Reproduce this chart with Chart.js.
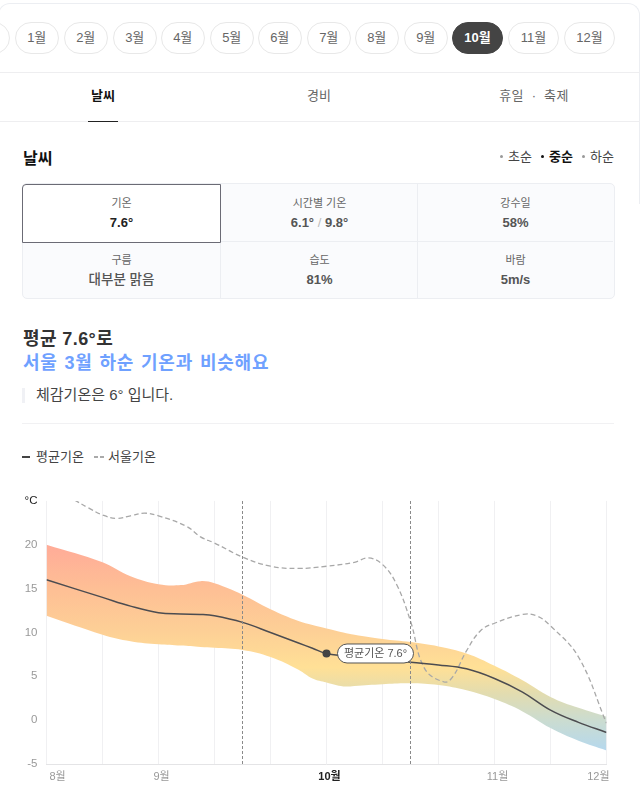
<!DOCTYPE html>
<html lang="ko">
<head>
<meta charset="utf-8">
<title>날씨</title>
<script src="https://cdn.jsdelivr.net/npm/chart.js@4"></script>
<style>
html, body { margin: 0; padding: 0; background: #fff; }
body { position: relative; width: 640px; height: 803px; overflow: hidden; font-family: "Liberation Sans", "Noto Sans CJK KR", sans-serif; color: #444; }
.abs { position: absolute; white-space: nowrap; }
.card { left: -2px; right: 0; top: 3px; height: 200px; border: 1px solid #eceef2; border-bottom: 0; border-radius: 12px 12px 0 0; }
.pill { position: absolute; top: 22px; height: 30px; line-height: 30px; border: 1px solid #e8e8e8; border-radius: 16px; text-align: center; font-size: 13px; color: #666; background: #fff; box-sizing: content-box; }
.pill.on { background: #444; border-color: #444; color: #fff; font-weight: bold; }
.rule { position: absolute; height: 1px; background: #eeeef0; }
.tab { position: absolute; top: 86px; width: 120px; text-align: center; font-size: 13px; line-height: 20px; color: #666; }
.tab.on { color: #111; font-weight: bold; }
.period { top: 148px; font-size: 13px; line-height: 18px; color: #444; }
.period.on { color: #111; font-weight: bold; }
.dot { position: absolute; top: 155px; width: 3px; height: 3px; border-radius: 50%; background: #999; }
.dot.on { background: #111; }
.table { left: 22px; top: 183px; width: 591px; height: 114px; border: 1px solid #eceef2; border-radius: 5px; background: #fafbfd; }
.cell { position: absolute; width: 197px; text-align: center; }
.cell .k { position: absolute; left: 0; right: 0; top: 11px; font-size: 11px; line-height: 16px; color: #666; }
.cell .v { position: absolute; left: 0; right: 0; top: 30px; font-size: 13px; line-height: 18px; font-weight: bold; color: #555; }
.sel { position: absolute; left: 22px; top: 184px; width: 197px; height: 57px; border: 1px solid #6b6b75; background: #fff; border-radius: 4px 0 0 0; }
canvas { position: absolute; left: 0; top: 485px; }
</style>
</head>
<body>
<div class="abs card"></div>
<div id="months"></div>
<div class="rule" style="left:0;right:0;top:72px"></div>
<div class="tab on" style="left:43px">날씨</div>
<div class="tab" style="left:259px">경비</div>
<div class="tab" style="left:474px;letter-spacing:.3px">휴일 &nbsp;·&nbsp; 축제</div>
<div class="rule" style="left:0;right:0;top:121px"></div>
<div class="abs" style="left:88px;top:121px;width:30px;height:1px;background:#222"></div>

<div class="abs" style="left:23px;top:149px;font-size:16px;line-height:20px;font-weight:bold;color:#111">날씨</div>
<div class="dot" style="left:500px"></div><div class="abs period" style="left:508px">초순</div>
<div class="dot on" style="left:541px"></div><div class="abs period on" style="left:549px">중순</div>
<div class="dot" style="left:582px"></div><div class="abs period" style="left:590px">하순</div>

<div class="abs table"></div>
<div class="rule" style="left:23px;width:590px;top:241px;background:#eceef2"></div>
<div class="rule" style="left:220px;width:1px;height:114px;top:184px;background:#eceef2"></div>
<div class="rule" style="left:417px;width:1px;height:114px;top:184px;background:#eceef2"></div>
<div class="sel"></div>
<div class="cell" style="left:23px;top:184px"><div class="k">기온</div><div class="v" style="color:#222">7.6°</div></div>
<div class="cell" style="left:221px;top:184px"><div class="k">시간별 기온</div><div class="v">6.1° <span style="color:#bbb;font-weight:normal">/</span> 9.8°</div></div>
<div class="cell" style="left:417px;top:184px"><div class="k">강수일</div><div class="v">58%</div></div>
<div class="cell" style="left:23px;top:241px"><div class="k">구름</div><div class="v" style="font-weight:500;font-size:13.5px">대부분 맑음</div></div>
<div class="cell" style="left:221px;top:241px"><div class="k">습도</div><div class="v">81%</div></div>
<div class="cell" style="left:417px;top:241px"><div class="k">바람</div><div class="v">5m/s</div></div>

<div class="abs" style="left:23px;top:327px;font-size:18px;line-height:24px;font-weight:bold;color:#333;letter-spacing:.4px">평균 7.6°로</div>
<div class="abs" style="left:23px;top:351px;font-size:18px;line-height:24px;font-weight:bold;color:#6fa1ff;letter-spacing:.8px;word-spacing:1px">서울 3월 하순 기온과 비슷해요</div>
<div class="abs" style="left:22px;top:388px;width:3px;height:15px;background:#f0f1f5"></div>
<div class="abs" style="left:36px;top:385px;font-size:15px;line-height:20px;color:#444">체감기온은 6° 입니다.</div>
<div class="rule" style="left:22px;width:592px;top:423px;background:#f1f1f3"></div>

<div class="abs" style="left:22px;top:456px;width:8px;height:2px;background:#444"></div>
<div class="abs" style="left:36px;top:448px;font-size:13px;line-height:18px;color:#444">평균기온</div>
<div class="abs" style="left:94px;top:456px;width:4px;height:2px;background:#aaa"></div>
<div class="abs" style="left:100px;top:456px;width:4px;height:2px;background:#aaa"></div>
<div class="abs" style="left:108px;top:448px;font-size:13px;line-height:18px;color:#444">서울기온</div>

<canvas id="chart" width="640" height="318"></canvas>

<script>
// month pills, the first one is cut off by the window
const pillMonths = ['', '1월', '2월', '3월', '4월', '5월', '6월', '7월', '8월', '9월', '10월', '11월', '12월'];
const pillLefts = [-34, 15, 64, 113, 161, 210, 258, 307, 355, 404, 452, 508, 564];

// chart data, x = 0 (8월) ... 10 (12월)
const monthTicks = ['8월', '', '9월', '', '', '10월', '', '', '11월', '', '12월'];
const yTicks = { '-5': '-5', 0: '0', 5: '5', 10: '10', 15: '15', 20: '20', 25: '°C' };

const bandX = [0, 1, 1.5, 2, 2.4, 2.75, 3, 3.5, 4, 4.5, 4.75, 5, 5.3, 5.5, 6, 6.5, 7, 7.5, 8, 8.5, 9, 9.5, 10];
const upperTemp = [20, 18, 16.4, 15.5, 15.4, 15.85, 15.6, 14.3, 12.65, 11.3, 10.85, 10.45, 10, 9.75, 9.25, 8.9, 8.4, 7.6, 6.2, 4.55, 2.65, 1.4, 0.4];
const lowerTemp = [11.9, 9.75, 9, 8.65, 8.5, 8.35, 8.25, 8, 7.2, 5.75, 4.75, 4.3, 3.85, 3.9, 4.1, 4.2, 4, 3.4, 2.4, 1, -0.9, -2.35, -3.45];
const meanTemp = [16, 14, 13, 12.25, 12.1, 12.05, 11.9, 11.15, 10, 8.8, 8.2, 7.6, 7.35, 7.25, 7, 6.6, 6.3, 5.85, 4.75, 3.2, 1.15, -0.25, -1.4];

const seoulX = [0.5, 0.75, 1, 1.25, 1.5, 1.75, 2, 2.5, 2.75, 3, 3.5, 4, 4.5, 5, 5.5, 5.75, 6, 6.25, 6.5, 6.75, 7.1, 7.25, 7.5, 7.75, 8, 8.5, 8.75, 9, 9.5, 10];
const seoulTemp = [25.1, 24.2, 23.4, 23, 23.3, 23.6, 23.3, 22.1, 20.9, 20.2, 18.6, 17.55, 17.3, 17.55, 18, 18.5, 17.75, 15.5, 11.3, 5.9, 4.35, 4.9, 7.9, 10.2, 11.05, 12.05, 11.9, 10.75, 7.2, -0.35];

const periodEdges = [3.5, 6.5];
const currentX = 5;
const currentTemp = 7.6;
const currentLabel = '평균기온 7.6°';

// band colours by temperature
const gradientTemps = [20, 15, 10, 6, 3, 0, -3.5];
const gradientColors = ['#ffab98', '#febf95', '#fdd096', '#ffe096', '#e2dcb0', '#cbdcd0', '#b5d8ee'];

pillMonths.forEach((m, i) => {
    const el = document.createElement('div');
    const wide = m.length > 2;
    el.className = 'pill' + (i === 10 ? ' on' : '');
    el.style.left = pillLefts[i] + 'px';
    el.style.width = (wide ? 49 : 41.5) + 'px';
    el.textContent = m;
    document.getElementById('months').appendChild(el);
});

function zip(xs, ys) {
    return xs.map((x, i) => ({ x: x, y: ys[i] }));
}

function bandFill(context) {
    const chart = context.chart;
    if (!chart.chartArea) return 'transparent';
    const yScale = chart.scales.y;
    const top = yScale.getPixelForValue(gradientTemps[0]);
    const bottom = yScale.getPixelForValue(gradientTemps[gradientTemps.length - 1]);
    const grad = chart.ctx.createLinearGradient(0, top, 0, bottom);
    gradientTemps.forEach((t, i) => {
        grad.addColorStop((yScale.getPixelForValue(t) - top) / (bottom - top), gradientColors[i]);
    });
    return grad;
}

// pill next to the current point
const currentPill = {
    id: 'currentPill',
    afterDatasetsDraw(chart) {
        const c = chart.ctx;
        const px = chart.scales.x.getPixelForValue(currentX);
        const py = chart.scales.y.getPixelForValue(currentTemp);
        c.save();
        c.beginPath();
        c.roundRect(px + 11, py - 9.5, 76, 19, 9.5);
        c.fillStyle = '#fff';
        c.fill();
        c.strokeStyle = '#555';
        c.lineWidth = 1;
        c.stroke();
        c.fillStyle = '#555';
        c.font = '11px "Liberation Sans", "Noto Sans CJK KR", sans-serif';
        c.textAlign = 'center';
        c.textBaseline = 'middle';
        c.fillText(currentLabel, px + 49, py + 0.5);
        c.restore();
    }
};

const periodSets = periodEdges.map(x => ({
    type: 'line',
    data: [{ x: x, y: -5 }, { x: x, y: 25 }],
    borderColor: '#8a8a8a',
    borderWidth: 1,
    borderDash: [3, 2],
    pointRadius: 0,
    tension: 0,
    fill: false,
    order: 1
}));

new Chart(document.getElementById('chart'), {
    type: 'line',
    data: {
        datasets: [
            { data: zip(bandX, upperTemp), borderWidth: 0, pointRadius: 0, fill: false, tension: 0.4, order: 6 },
            { data: zip(bandX, lowerTemp), borderWidth: 0, pointRadius: 0, fill: '-1', backgroundColor: bandFill, tension: 0.4, order: 5 },
            { data: zip(seoulX, seoulTemp), borderColor: '#a8a8a8', borderWidth: 1.3, borderDash: [5, 3], pointRadius: 0, fill: false, tension: 0.4, order: 3 },
            { data: zip(bandX, meanTemp), borderColor: '#4c4c50', borderWidth: 1.5, pointRadius: 0, fill: false, tension: 0.4, order: 2 },
            { data: [{ x: currentX, y: currentTemp }], pointRadius: 4, pointBackgroundColor: '#444', pointBorderWidth: 0, showLine: false, order: 0 },
            ...periodSets
        ]
    },
    options: {
        responsive: false,
        animation: false,
        layout: { padding: { top: 14, right: 33.5 } },
        plugins: { legend: { display: false }, tooltip: { enabled: false } },
        scales: {
            x: {
                type: 'linear',
                min: 0,
                max: 10,
                afterFit: s => { s.height = 39; },
                afterBuildTicks: s => { s.ticks = monthTicks.map((_, i) => ({ value: i })); },
                grid: { color: '#f0f0f2', drawTicks: false },
                border: { color: '#e4e4e6' },
                ticks: {
                    autoSkip: false,
                    maxRotation: 0,
                    align: 'inner',
                    labelOffset: 3,
                    padding: 6,
                    callback: v => monthTicks[v],
                    color: c => c.index === 5 ? '#222' : '#999',
                    font: c => ({ size: 11, weight: c.index === 5 ? 'bold' : 'normal', family: '"Liberation Sans", "Noto Sans CJK KR", sans-serif' })
                }
            },
            y: {
                min: -5,
                max: 25,
                afterFit: s => { s.width = 46.5; },
                grid: { display: false, drawTicks: false },
                border: { display: false },
                ticks: {
                    stepSize: 5,
                    padding: 9,
                    callback: v => yTicks[v],
                    color: c => c.tick.value === 25 ? '#222' : '#999',
                    font: { size: 11.5, family: '"Liberation Sans", "Noto Sans CJK KR", sans-serif' }
                }
            }
        }
    },
    plugins: [currentPill]
});
</script>
</body>
</html>
